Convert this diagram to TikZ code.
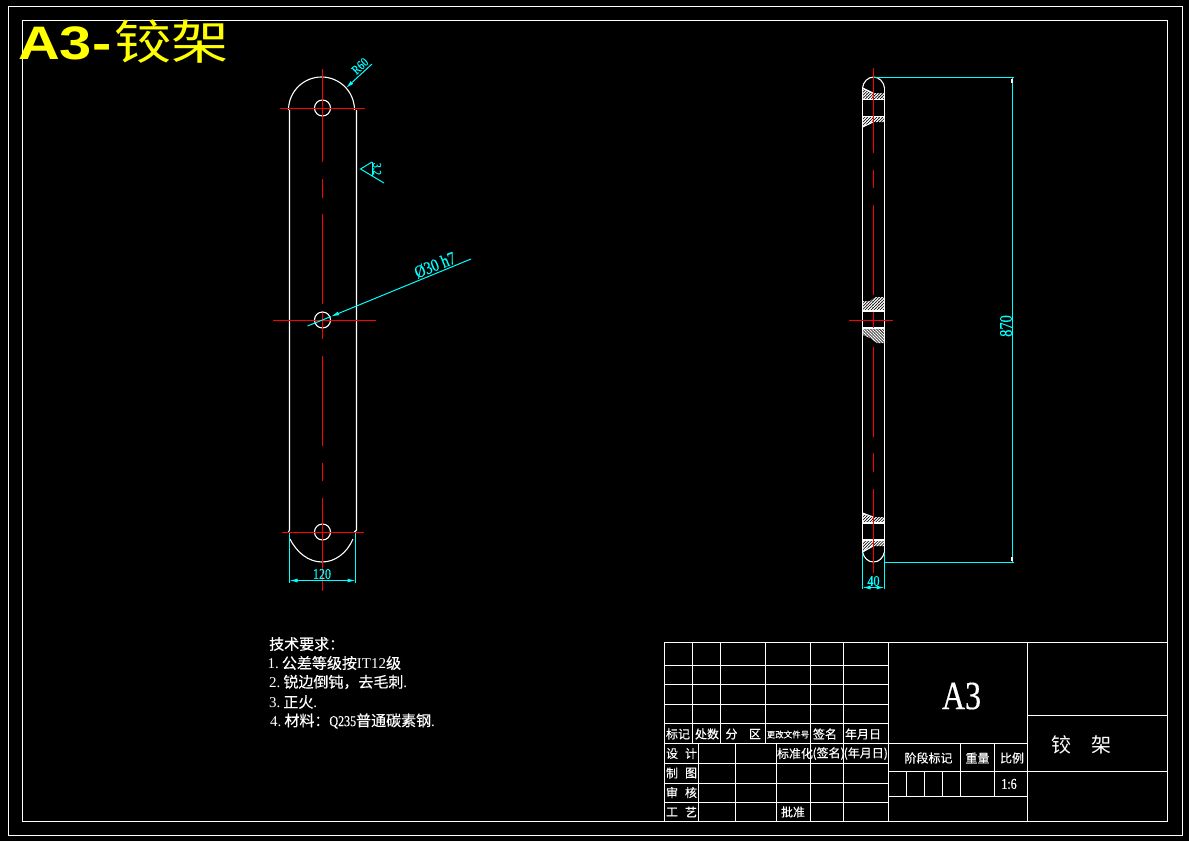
\documentclass[tikz,border=0pt]{standalone}
\usepackage{fontspec}
\setmainfont{Liberation Serif}
\newfontfamily\cjk[FakeBold=0.35]{Noto Sans CJK SC}
\newfontfamily\cjkplain{Noto Sans CJK SC}
\newfontfamily\cjkwide[FakeStretch=1.22]{Noto Sans CJK SC}
\newfontfamily\headfont[FakeStretch=1.23]{Liberation Sans}
\newfontfamily\dimfont[FakeStretch=0.8,FakeBold=0.4]{Liberation Serif}
\usetikzlibrary{patterns.meta,arrows.meta}
\definecolor{dimcyan}{RGB}{0,255,255}
\definecolor{axisred}{RGB}{255,0,0}
\definecolor{headyellow}{RGB}{255,255,0}
\begin{document}
\begin{tikzpicture}[x=1pt,y=-1pt]
	% formats
	\tikzstyle{every node}=[inner sep=0pt, white]
	\tikzstyle{part} = [white, line width=1.1pt]
	\tikzstyle{frame} = [white, line width=1.1pt]
	\tikzstyle{axis} = [axisred, line width=1.2pt]
	\tikzstyle{dim} = [dimcyan, line width=1pt]
	\tikzstyle{dimarrow} = [dim, {Latex[length=8pt,width=4pt]}-{Latex[length=8pt,width=4pt]}]
	\tikzstyle{leader} = [dim, {Latex[length=8pt,width=4pt]}-]
	\tikzstyle{dimtext} = [dimcyan, font=\dimfont\fontsize{15}{15}\selectfont]
	\tikzstyle{cell} = [font=\cjk\fontsize{12}{12}\selectfont]
	\tikzstyle{note} = [anchor=west, font=\fontsize{15}{15}\selectfont]
	\tikzstyle{hatchup} = [pattern={Lines[angle=45,distance=2.1pt,line width=1.2pt]}, pattern color=white]
	\tikzstyle{hatchdown} = [pattern={Lines[angle=135,distance=2.1pt,line width=1.2pt]}, pattern color=white]
	% sheet
	\fill [black] (0,0) rectangle (1189,841);
	\draw [frame] (8.5,6.5) rectangle (1182.5,835.5);
	\draw [frame] (22.5,20.5) rectangle (1167.5,821.5);
	\node [anchor=west, headyellow] (title) at (18,42) {\headfont\bfseries\fontsize{47}{47}\selectfont A3-\hspace{3pt}{\cjkwide\mdseries\fontsize{47}{47}\selectfont 铰架}};
	% front view
	\draw [part] (289.5,110) -- (289.5,530) -- (288.5,532);
	\draw [part] (356.5,110) -- (356.5,530) -- (354.5,532);
	\draw [part] (288.5,110) arc [start angle=180, end angle=360, x radius=33, y radius=33];
	\draw [part] (290,539) .. controls (297,553) and (309,562) .. (322,562) .. controls (335,562) and (347,553) .. (353,539);
	\foreach \y in {108,320,532}
		\draw [part] (322.5,\y) circle (8);
	\draw [axis] (280,108.5) -- (365,108.5);
	\draw [axis] (273,320.5) -- (376,320.5);
	\draw [axis] (282,532.5) -- (364,532.5);
	\foreach \a/\b in {69/162,179/198,214/304,313/339,356/446,463/481,498/591}
		\draw [axis] (322.5,\a) -- (322.5,\b);
	% side view
	\draw [part] (862.5,88) -- (862.5,552);
	\draw [part] (884.5,88) -- (884.5,552);
	\draw [part] (862.5,88) .. controls (863,82) and (868,77) .. (873.5,77) .. controls (879,77) and (884,82) .. (884.5,88);
	\draw [part] (862.5,552) .. controls (864,558) and (868,562) .. (873.5,562) .. controls (879,562) and (883,558) .. (884.5,552);
	\fill [hatchup] (863,88) -- (873,93) -- (884,93) -- (884,99) -- (863,99) -- cycle;
	\fill [hatchup] (863,117) -- (884,117) -- (884,122) -- (873,122) -- (863,127) -- cycle;
	\fill [hatchup] (863,301) -- (870,301) -- (875,297) -- (884,297) -- (884,311) -- (863,311) -- cycle;
	\fill [hatchdown] (863,328) -- (884,328) -- (884,343) -- (877,343) -- (870,338) -- (863,335) -- cycle;
	\fill [hatchup] (863,513) -- (873,517) -- (884,517) -- (884,523) -- (863,523) -- cycle;
	\fill [hatchup] (863,540) -- (884,540) -- (884,546) -- (873,546) -- (863,552) -- cycle;
	\draw [part] (862.5,88) -- (873,93);
	\foreach \y in {99.5,116.5,311,328,523,540}
		\draw [part] (862.5,\y) -- (884.5,\y);
	\draw [part] (862.5,127) -- (873,122);
	\draw [part] (862.5,513) -- (873,517);
	\draw [part] (862.5,552) -- (873,546);
	\draw [axis] (849,320.5) -- (893,320.5);
	\foreach \a/\b in {68/153,170/188,205/295,312/328,347/437,453/472,489/573}
		\draw [axis] (873.5,\a) -- (873.5,\b);
	% dimensions
	\coordinate (r60a) at (346,88);
	\coordinate (r60b) at (372,64);
	\draw [leader] (r60a) -- (r60b);
	\node [dimtext, rotate=43, font=\dimfont\fontsize{13}{13}\selectfont] (r60) at (360,66) {R60};
	\coordinate (rougha) at (360.5,169);
	\coordinate (roughb) at (372,162);
	\coordinate (roughc) at (384,183);
	\coordinate (roughd) at (372,176);
	\draw [dim] (roughb) -- (rougha) -- (roughc);
	\draw [dim] (roughb) -- (roughd);
	\node [dimtext, rotate=-90, font=\dimfont\fontsize{12}{12}\selectfont] (rough) at (377,169) {3.2};
	\coordinate (d30a) at (307.5,326);
	\coordinate (d30b) at (331,316.5);
	\coordinate (d30c) at (471,259);
	\draw [dim] (d30a) -- (d30b);
	\draw [leader] (d30b) -- (d30c);
	\node [dimtext, rotate=22, font=\dimfont\fontsize{18}{18}\selectfont] (d30) at (435,265) {Ø30 h7};
	\coordinate (w120a) at (289.5,533);
	\coordinate (w120b) at (355.5,533);
	\coordinate (w120c) at (289.5,580.5);
	\coordinate (w120d) at (355.5,580.5);
	\draw [dim] (w120a) -- (289.5,583);
	\draw [dim] (w120b) -- (355.5,583);
	\draw [dimarrow] (w120c) -- (w120d);
	\node [dimtext] (w120) at (322,574) {120};
	\coordinate (w40a) at (862.5,553);
	\coordinate (w40b) at (884.5,553);
	\coordinate (w40c) at (862.5,587.5);
	\coordinate (w40d) at (884.5,587.5);
	\draw [dim] (w40a) -- (862.5,589);
	\draw [dim] (w40b) -- (884.5,589);
	\draw [dimarrow] (w40c) -- (w40d);
	\node [dimtext] (w40) at (873.5,581) {40};
	\coordinate (h870a) at (1012.5,77.5);
	\coordinate (h870b) at (1012.5,562.5);
	\draw [dim] (873.5,77.5) -- (1014,77.5);
	\draw [dim] (884.5,562.5) -- (1014,562.5);
	\draw [dim] (h870a) -- (h870b);
	\draw [white, line width=2pt] (1011.5,79) -- (1011.5,83);
	\draw [white, line width=2pt] (1011.5,557) -- (1011.5,561);
	\node [dimtext, rotate=90, font=\dimfont\fontsize{18}{18}\selectfont] (h870) at (1006,326) {870};
	% notes
	\node [note] (n0) at (269,644) {{\cjk 技术要求：}};
	\node [note] (n1) at (267.5,663) {1.\hspace{3pt}{\cjk 公差等级按}IT12{\cjk 级}};
	\node [note] (n2) at (269,682) {2.\hspace{3pt}{\cjk 锐边倒钝，去毛刺}.};
	\node [note] (n3) at (269,702) {3.\hspace{3pt}{\cjk 正火}.};
	\node [note] (n4) at (270,721) {4.\hspace{3pt}{\cjk 材料：}{\dimfont Q235}{\cjk 普通碳素钢}.};
	% title block
	\draw [frame] (664.5,642.5) rectangle (1167.5,821.5);
	\foreach \y in {665.5,684.5,704.5,723.5,743.5,763.5,783.5,802.5}
		\draw [frame] (664.5,\y) -- (888.5,\y);
	\foreach \x in {692.5,720.5,765.5}
		\draw [frame] (\x,642.5) -- (\x,743.5);
	\foreach \x in {810.5,843.5}
		\draw [frame] (\x,642.5) -- (\x,821.5);
	\foreach \x in {698.5,735.5,776.5}
		\draw [frame] (\x,743.5) -- (\x,821.5);
	\draw [frame] (888.5,642.5) -- (888.5,821.5);
	\draw [frame] (1027.5,642.5) -- (1027.5,821.5);
	\draw [frame] (888.5,743.5) -- (1027.5,743.5);
	\draw [frame] (888.5,771.5) -- (1167.5,771.5);
	\draw [frame] (888.5,796.5) -- (1027.5,796.5);
	\draw [frame] (1027.5,715.5) -- (1167.5,715.5);
	\draw [frame] (960.5,743.5) -- (960.5,796.5);
	\draw [frame] (994.5,743.5) -- (994.5,796.5);
	\foreach \x in {906.5,924.5,942.5}
		\draw [frame] (\x,771.5) -- (\x,796.5);
	% title block texts
	\node [cell] (biaoji) at (678,734) {标记};
	\node [cell] (chushu) at (707,734) {处数};
	\node [cell] (fen) at (731.5,734) {分};
	\node [cell] (qu) at (755,734) {区};
	\node [cell, font=\cjk\fontsize{8.5}{8.5}\selectfont] (genggai) at (788,734.5) {更改文件号};
	\node [cell] (qianming) at (825,734) {签名};
	\node [cell] (nianyueri) at (863,734) {年月日};
	\node [cell] (biaozhun) at (795,753.5) {标准化};
	\node [cell] (qianmingb) at (828.6,753.5) {(签名)};
	\node [cell] (nianyuerib) at (865.8,753.5) {(年月日)};
	\foreach \na/\nb/\y [count=\i] in {设/计/753.5,制/图/773,审/核/792.5,工/艺/812}{
		\node [cell] (left\i) at (672,\y) {\na};
		\node [cell] (right\i) at (691,\y) {\nb};
	}
	\node [cell] (pizhun) at (793,812) {批准};
	\node [font=\dimfont\fontsize{40}{40}\selectfont] (sheet) at (961.5,696) {A3};
	\node [cell] (jieduan) at (928.5,758) {阶段标记};
	\node [cell] (zhongliang) at (977.5,758) {重量};
	\node [cell] (bili) at (1012,758) {比例};
	\node [font=\dimfont\fontsize{15}{15}\selectfont] (scale) at (1009,784) {1:6};
	\node [font=\cjkplain\fontsize{20}{20}\selectfont] (jiao) at (1061,745) {铰};
	\node [font=\cjkplain\fontsize{20}{20}\selectfont] (jia) at (1101,745) {架};
\end{tikzpicture}
\end{document}
